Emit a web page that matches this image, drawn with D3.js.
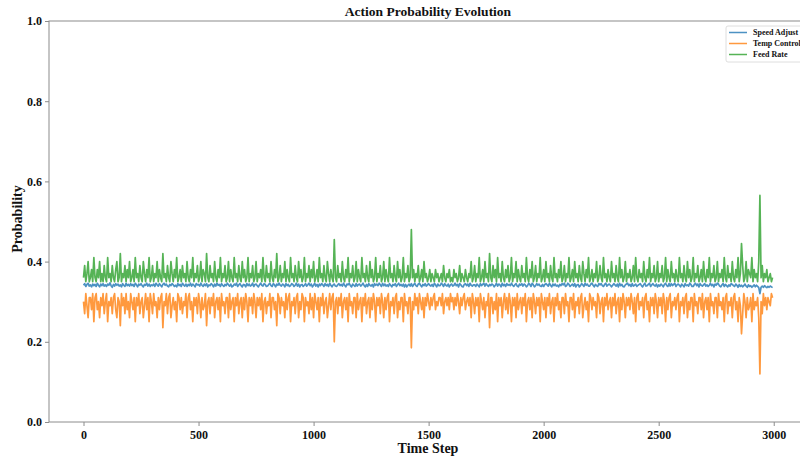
<!DOCTYPE html>
<html>
<head>
<meta charset="utf-8">
<script src="https://cdn.jsdelivr.net/npm/d3@7"></script>
<style>
  body { margin: 0; background: #fff; }
  text { font-family: "Liberation Serif", "Times New Roman", serif; font-weight: bold; fill: #111; }
</style>
</head>
<body>
<div id="chart"></div>
<script>
// series names in legend order
const seriesNames = ['Speed Adjust', 'Temp Control', 'Feed Rate'];
const seriesColors = ['#1f77b4', '#ff7f0e', '#2ca02c'];

// one sample every 5 time steps, 0 .. 2995
const steps = d3.range(0, 3000, 5);

const speedAdjust = [
  .341,.345,.338,.343,.346,.339,.342,.337,.344,.340, .343,.338,.346,.341,.337,.344,.340,.345,.339,.342,
  .338,.344,.341,.347,.340,.336,.343,.339,.345,.341, .344,.339,.342,.337,.345,.341,.338,.346,.340,.343,
  .339,.345,.340,.343,.338,.346,.342,.337,.344,.341, .345,.340,.337,.343,.341,.346,.339,.344,.338,.342,
  .340,.344,.338,.346,.342,.339,.345,.341,.337,.343, .346,.341,.344,.339,.337,.343,.340,.345,.342,.338,
  .341,.337,.345,.340,.343,.338,.346,.342,.339,.344, .338,.343,.340,.346,.339,.344,.341,.337,.345,.342,
  .343,.339,.346,.341,.338,.344,.340,.345,.337,.342, .340,.345,.342,.337,.344,.339,.346,.341,.343,.338,
  .345,.341,.338,.343,.340,.346,.342,.339,.344,.337, .339,.344,.341,.346,.338,.342,.345,.340,.337,.343,
  .342,.337,.345,.340,.344,.339,.341,.346,.338,.343, .344,.340,.337,.342,.346,.341,.339,.345,.343,.338,
  .339,.343,.346,.340,.338,.345,.342,.337,.344,.341, .346,.341,.339,.344,.342,.337,.345,.340,.343,.338,
  .340,.345,.343,.338,.341,.346,.339,.344,.337,.342, .343,.338,.341,.345,.339,.342,.346,.340,.344,.337,
  .341,.346,.339,.343,.337,.344,.340,.345,.342,.338, .345,.340,.343,.338,.346,.341,.337,.342,.344,.339,
  .338,.342,.345,.340,.343,.339,.346,.341,.337,.344, .342,.346,.340,.337,.344,.341,.338,.345,.339,.343,
  .344,.339,.342,.346,.340,.337,.343,.338,.345,.341, .339,.343,.337,.345,.341,.344,.340,.346,.342,.338,
  .346,.340,.344,.339,.342,.338,.345,.341,.337,.343, .341,.345,.338,.342,.346,.340,.343,.339,.344,.337,
  .343,.337,.341,.344,.339,.345,.338,.342,.346,.340, .338,.344,.346,.341,.337,.343,.340,.345,.339,.342,
  .345,.341,.339,.343,.338,.346,.342,.337,.344,.340, .340,.346,.343,.338,.345,.341,.339,.344,.337,.342,
  .344,.339,.341,.346,.340,.343,.337,.345,.342,.338, .337,.343,.345,.340,.344,.338,.346,.341,.339,.342,
  .342,.338,.344,.341,.337,.345,.340,.343,.346,.339, .345,.341,.338,.343,.340,.344,.342,.337,.341,.346,
  .339,.344,.342,.337,.346,.340,.343,.338,.345,.341, .343,.340,.346,.341,.338,.342,.345,.339,.337,.344,
  .341,.345,.339,.344,.342,.337,.340,.346,.343,.338, .346,.342,.337,.340,.345,.341,.344,.339,.338,.343,
  .338,.343,.345,.342,.339,.346,.341,.337,.344,.340, .344,.339,.341,.337,.343,.340,.345,.342,.346,.338,
  .340,.346,.343,.338,.341,.344,.339,.345,.337,.342, .343,.337,.340,.345,.342,.338,.346,.341,.344,.339,
  .339,.344,.346,.341,.337,.343,.340,.338,.345,.342, .345,.340,.338,.343,.346,.339,.342,.344,.341,.337,
  .341,.345,.342,.339,.344,.337,.346,.340,.343,.338, .337,.342,.344,.346,.340,.343,.338,.345,.339,.341,
  .344,.338,.341,.343,.345,.340,.337,.342,.346,.339, .340,.343,.346,.338,.342,.345,.341,.339,.344,.337,
  .342,.339,.344,.341,.337,.343,.346,.340,.338,.345, .339,.345,.340,.343,.346,.338,.342,.344,.341,.337,
  .344,.341,.337,.345,.340,.342,.339,.346,.343,.338, .338,.343,.346,.340,.344,.337,.345,.341,.339,.342,
  .345,.339,.342,.338,.341,.346,.340,.343,.337,.344, .341,.346,.344,.339,.337,.342,.345,.338,.343,.340,
  .337,.342,.339,.345,.343,.340,.338,.344,.341,.336, .343,.338,.341,.337,.340,.344,.339,.336,.342,.338,
  .340,.336,.339,.342,.337,.341,.338,.335,.320,.336, .339,.336,.340,.337,.335,.338,.336,.339,.337,.335
];

const tempControl = [
  .30,.27,.32,.29,.26,.31,.31,.28,.32,.25, .31,.32,.28,.30,.26,.31,.29,.32,.27,.30,
  .32,.25,.30,.29,.31,.27,.31,.32,.28,.26, .31,.30,.24,.32,.29,.31,.27,.32,.28,.30,
  .26,.32,.30,.28,.31,.25,.31,.29,.32,.27, .30,.31,.26,.29,.32,.28,.31,.25,.32,.30,
  .27,.32,.29,.30,.26,.31,.28,.31,.32,.235, .30,.29,.32,.27,.31,.32,.26,.29,.31,.28,
  .30,.25,.32,.31,.28,.31,.27,.30,.29,.32, .26,.31,.32,.28,.30,.25,.31,.29,.31,.27,
  .32,.30,.26,.31,.28,.29,.32,.24,.30,.31, .27,.31,.29,.32,.26,.30,.31,.28,.31,.25,
  .32,.29,.30,.27,.31,.31,.26,.32,.28,.30, .31,.25,.31,.29,.32,.27,.30,.31,.26,.31,
  .28,.32,.30,.25,.31,.29,.31,.27,.32,.30, .26,.31,.29,.31,.28,.32,.25,.30,.31,.27,
  .30,.29,.32,.26,.31,.31,.28,.30,.24,.32, .31,.27,.31,.29,.30,.26,.32,.28,.31,.32,
  .25,.30,.29,.31,.27,.31,.32,.26,.30,.28, .32,.31,.25,.31,.29,.30,.27,.32,.28,.31,
  .26,.32,.30,.28,.31,.25,.31,.29,.32,.27, .30,.31,.26,.29,.32,.28,.31,.32,.20,.30,
  .31,.27,.31,.29,.32,.26,.30,.31,.28,.31, .25,.32,.29,.30,.27,.31,.31,.26,.32,.28,
  .30,.31,.25,.31,.29,.32,.27,.30,.31,.26, .31,.28,.32,.30,.25,.31,.29,.31,.27,.32,
  .30,.26,.31,.28,.31,.32,.25,.30,.29,.31, .27,.31,.32,.26,.30,.28,.31,.31,.25,.32,
  .29,.30,.27,.31,.31,.185,.30,.28,.32,.29, .31,.27,.32,.30,.28,.31,.26,.31,.29,.32,
  .30,.28,.31,.29,.31,.32,.28,.30,.29,.31, .31,.29,.32,.27,.30,.31,.29,.31,.28,.32,
  .30,.31,.28,.31,.29,.32,.30,.27,.31,.29, .31,.32,.28,.30,.31,.29,.31,.26,.32,.30,
  .27,.31,.29,.31,.25,.32,.30,.28,.31,.26, .30,.29,.32,.235,.31,.31,.27,.30,.28,.32,
  .25,.31,.29,.31,.26,.30,.32,.28,.31,.27, .32,.30,.25,.31,.29,.31,.26,.32,.28,.30,
  .31,.27,.31,.29,.32,.25,.30,.31,.28,.31, .26,.32,.30,.27,.31,.29,.31,.25,.32,.30,
  .28,.31,.26,.31,.29,.32,.27,.30,.31,.25, .31,.29,.32,.28,.30,.26,.31,.31,.27,.32,
  .29,.30,.25,.31,.31,.28,.32,.26,.30,.29, .31,.27,.31,.32,.26,.29,.31,.28,.30,.25,
  .32,.31,.28,.31,.29,.30,.26,.32,.31,.27, .30,.31,.25,.31,.29,.32,.28,.30,.31,.26,
  .31,.29,.32,.27,.30,.31,.25,.31,.28,.32, .30,.26,.31,.29,.31,.28,.32,.30,.27,.31,
  .25,.31,.32,.28,.30,.29,.31,.26,.31,.32, .28,.30,.25,.31,.29,.31,.27,.32,.30,.26,
  .31,.29,.31,.27,.32,.30,.25,.31,.28,.31, .32,.26,.30,.29,.31,.28,.31,.32,.25,.30,
  .29,.31,.27,.31,.32,.26,.30,.28,.31,.31, .25,.32,.29,.30,.27,.31,.31,.28,.32,.26,
  .30,.31,.28,.31,.25,.32,.29,.30,.27,.31, .31,.26,.32,.29,.30,.28,.31,.25,.31,.32,
  .27,.30,.29,.31,.26,.31,.32,.28,.30,.25, .31,.29,.22,.27,.32,.30,.26,.31,.28,.29,
  .31,.25,.32,.28,.30,.29,.31,.26,.12,.30, .27,.32,.29,.31,.28,.31,.30,.29,.32,.31
];

const feedRate = [
  .36,.39,.35,.37,.40,.35,.36,.38,.35,.41, .36,.35,.38,.36,.40,.35,.37,.35,.39,.36,
  .35,.41,.36,.37,.35,.39,.36,.35,.38,.40, .35,.36,.42,.35,.37,.36,.39,.35,.38,.36,
  .40,.35,.36,.38,.35,.41,.36,.37,.35,.39, .36,.35,.40,.37,.35,.38,.36,.41,.35,.36,
  .39,.35,.37,.36,.40,.35,.38,.36,.35,.42, .36,.37,.35,.39,.36,.35,.40,.37,.35,.38,
  .36,.41,.35,.36,.38,.35,.39,.36,.37,.35, .40,.36,.35,.38,.36,.41,.35,.37,.36,.39,
  .35,.36,.40,.35,.38,.37,.35,.42,.36,.35, .39,.36,.37,.35,.40,.36,.35,.38,.36,.41,
  .35,.37,.36,.39,.35,.36,.40,.35,.38,.36, .35,.41,.36,.37,.35,.39,.36,.35,.40,.36,
  .38,.35,.36,.41,.35,.37,.36,.39,.35,.36, .40,.35,.37,.36,.38,.35,.41,.36,.35,.39,
  .36,.37,.35,.40,.36,.35,.38,.36,.42,.35, .36,.39,.35,.37,.36,.40,.35,.38,.36,.35,
  .41,.36,.37,.35,.39,.36,.35,.40,.36,.38, .35,.36,.41,.35,.37,.36,.39,.35,.38,.36,
  .40,.35,.36,.38,.35,.41,.36,.37,.35,.39, .36,.35,.40,.37,.35,.38,.36,.35,.455,.36,
  .35,.39,.36,.37,.35,.40,.36,.35,.38,.36, .41,.35,.37,.36,.39,.35,.36,.40,.35,.38,
  .36,.35,.41,.36,.37,.35,.39,.36,.35,.40, .36,.38,.35,.36,.41,.35,.37,.36,.39,.35,
  .36,.40,.35,.38,.36,.35,.41,.36,.37,.35, .39,.36,.35,.40,.36,.38,.35,.36,.41,.35,
  .37,.36,.39,.35,.36,.48,.36,.38,.35,.37, .36,.39,.35,.36,.38,.35,.40,.36,.37,.35,
  .36,.38,.35,.37,.36,.35,.38,.36,.37,.35, .36,.37,.35,.39,.36,.35,.37,.36,.38,.35,
  .36,.35,.38,.36,.37,.35,.36,.39,.35,.37, .36,.35,.38,.36,.35,.37,.36,.40,.35,.36,
  .39,.35,.37,.36,.41,.35,.36,.38,.35,.40, .36,.37,.35,.42,.36,.35,.39,.36,.38,.35,
  .41,.36,.37,.35,.40,.36,.35,.38,.36,.39, .35,.36,.41,.35,.37,.36,.40,.35,.38,.36,
  .35,.39,.36,.37,.35,.41,.36,.35,.38,.36, .40,.35,.36,.39,.35,.37,.36,.41,.35,.36,
  .38,.35,.40,.36,.37,.35,.39,.36,.35,.41, .36,.37,.35,.38,.36,.40,.35,.36,.39,.35,
  .37,.36,.41,.35,.36,.38,.35,.40,.36,.37, .35,.39,.36,.35,.40,.37,.35,.38,.36,.41,
  .35,.36,.38,.35,.37,.36,.40,.35,.36,.39, .36,.35,.41,.36,.37,.35,.38,.36,.35,.40,
  .36,.37,.35,.39,.36,.35,.41,.36,.38,.35, .36,.40,.35,.37,.36,.38,.35,.36,.39,.35,
  .41,.36,.35,.38,.36,.37,.35,.40,.36,.35, .38,.36,.41,.35,.37,.36,.39,.35,.36,.40,
  .35,.37,.36,.39,.35,.36,.41,.35,.38,.36, .35,.40,.36,.37,.35,.38,.36,.35,.41,.36,
  .37,.35,.39,.36,.35,.40,.36,.38,.35,.36, .41,.35,.37,.36,.39,.35,.36,.38,.35,.40,
  .36,.35,.38,.36,.41,.35,.37,.36,.39,.35, .36,.40,.35,.37,.36,.38,.35,.41,.36,.35,
  .39,.36,.37,.35,.40,.36,.35,.38,.36,.41, .35,.37,.445,.39,.35,.36,.40,.35,.38,.37,
  .36,.41,.35,.38,.36,.37,.35,.40,.565,.36, .39,.35,.37,.36,.38,.35,.36,.37,.35,.36
];

const xTicks = [0, 500, 1000, 1500, 2000, 2500, 3000];
const yTicks = [0, 0.2, 0.4, 0.6, 0.8, 1.0];

const width = 800, height = 459;
const margin = { top: 21, right: -8, bottom: 37, left: 49 };

const svg = d3.select('#chart').append('svg').attr('width', width).attr('height', height);

const xScale = d3.scaleLinear().domain([-150, 3149]).range([margin.left, width - margin.right]);
const yScale = d3.scaleLinear().domain([0, 1]).range([height - margin.bottom, margin.top]);

const series = [speedAdjust, tempControl, feedRate];
const line = d3.line().x((d, i) => xScale(steps[i])).y(d => yScale(d));

series.forEach((vals, k) => {
  svg.append('path')
    .datum(vals)
    .attr('d', line)
    .attr('fill', 'none')
    .attr('stroke', seriesColors[k])
    .attr('stroke-opacity', 0.8)
    .attr('stroke-width', 1.7)
    .attr('stroke-linejoin', 'round');
});

// frame
svg.append('rect')
  .attr('x', margin.left).attr('y', margin.top)
  .attr('width', width - margin.right - margin.left)
  .attr('height', height - margin.bottom - margin.top)
  .attr('fill', 'none').attr('stroke', '#8c8c8c').attr('stroke-width', 1);

const xAxis = svg.append('g')
  .attr('transform', `translate(0,${height - margin.bottom})`)
  .call(d3.axisBottom(xScale).tickValues(xTicks).tickFormat(d3.format('d')).tickSize(4).tickPadding(4).tickSizeOuter(0));
const yAxis = svg.append('g')
  .attr('transform', `translate(${margin.left},0)`)
  .call(d3.axisLeft(yScale).tickValues(yTicks).tickFormat(d3.format('.1f')).tickSize(4).tickPadding(3).tickSizeOuter(0));

[xAxis, yAxis].forEach(a => {
  a.select('.domain').remove();
  a.selectAll('.tick line').attr('stroke', '#8c8c8c');
  a.selectAll('.tick text').style('font-family', '"Liberation Serif", serif').style('font-weight', 'bold').style('font-size', '12px').attr('fill', '#111');
});

svg.append('text')
  .attr('x', 428).attr('y', 16)
  .attr('text-anchor', 'middle')
  .style('font-size', '13.5px')
  .text('Action Probability Evolution');

svg.append('text')
  .attr('x', 428).attr('y', 453)
  .attr('text-anchor', 'middle')
  .style('font-size', '14px')
  .text('Time Step');

svg.append('text')
  .attr('transform', 'translate(22,219) rotate(-90)')
  .attr('text-anchor', 'middle')
  .style('font-size', '14px')
  .text('Probability');

// legend
const legend = svg.append('g').attr('transform', 'translate(726,26)');
legend.append('rect')
  .attr('width', 90).attr('height', 36).attr('rx', 2)
  .attr('fill', '#fff').attr('fill-opacity', 0.8)
  .attr('stroke', '#d6d6d6').attr('stroke-width', 0.8);
seriesNames.forEach((name, k) => {
  const y = 6.5 + k * 11;
  legend.append('line')
    .attr('x1', 3).attr('x2', 21).attr('y1', y).attr('y2', y)
    .attr('stroke', seriesColors[k]).attr('stroke-opacity', 0.8).attr('stroke-width', 1.5);
  legend.append('text')
    .attr('x', 27).attr('y', y + 2.8)
    .style('font-size', '8px')
    .text(name);
});
</script>
</body>
</html>
